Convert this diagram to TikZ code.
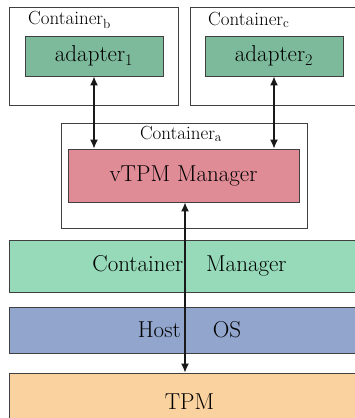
\documentclass[tikz,border=0pt]{standalone}
\usepackage{tikz}
\usetikzlibrary{arrows.meta}

\definecolor{adaptcol}{HTML}{7DB99B}
\definecolor{vtpmcol}{HTML}{E08C96}
\definecolor{cmcol}{HTML}{96DAB9}
\definecolor{hostcol}{HTML}{91A5CD}
\definecolor{tpmcol}{HTML}{FAD2A0}

\begin{document}
\begin{tikzpicture}[x=1pt, y=-1pt,
        container/.style={draw=black!75, line width=0.8pt, fill=white, inner sep=0pt},
        box/.style={draw=black!75, line width=0.8pt, inner sep=0pt, font=\fontsize{23}{27}\selectfont},
        clabel/.style={inner sep=0pt, font=\fontsize{19}{23}\selectfont},
        link/.style={line width=1.5pt, black!90, {Latex[length=9pt,width=8pt]}-{Latex[length=9pt,width=8pt]}}]
        \useasboundingbox (0,0) rectangle (354,418);

        \node[container, minimum width=169pt, minimum height=98pt] (contb) at (93.5,56) {};
        \node[container, minimum width=180pt, minimum height=98pt] (contc) at (280,56) {};
        \node[container, minimum width=246pt, minimum height=105pt] (conta) at (184,175.5) {};

        \node[clabel, anchor=west] (labb) at (28,20) {Container\textsubscript{b}};
        \node[clabel, anchor=west] (labc) at (208,20) {Container\textsubscript{c}};
        \node[clabel] (laba) at (181,134) {Container\textsubscript{a}};

        \node[box, fill=adaptcol, minimum width=138pt, minimum height=40pt] (adapter1) at (94,56) {adapter\textsubscript{1}};
        \node[box, fill=adaptcol, minimum width=138pt, minimum height=40pt] (adapter2) at (274,56) {adapter\textsubscript{2}};
        \node[box, fill=vtpmcol, minimum width=231pt, minimum height=53pt] (vtpm) at (183.5,175.5) {vTPM Manager};

        \node[box, fill=cmcol, minimum width=361pt, minimum height=52pt] (cm) at (189.5,266) {Container\hspace{1em}Manager};
        \node[box, fill=hostcol, minimum width=361pt, minimum height=46pt] (host) at (189.5,330) {Host\hspace{1.4em}OS};
        \node[box, fill=tpmcol, minimum width=361pt, minimum height=57pt] (tpm) at (189.5,401.5) {TPM};

        \draw[link] (adapter1.south) -- (adapter1.south |- vtpm.north);
        \draw[link] (adapter2.south) -- (adapter2.south |- vtpm.north);
        \draw[link] ([xshift=1.5pt]vtpm.south) -- ([xshift=1.5pt]vtpm.south |- tpm.north);
\end{tikzpicture}
\end{document}
